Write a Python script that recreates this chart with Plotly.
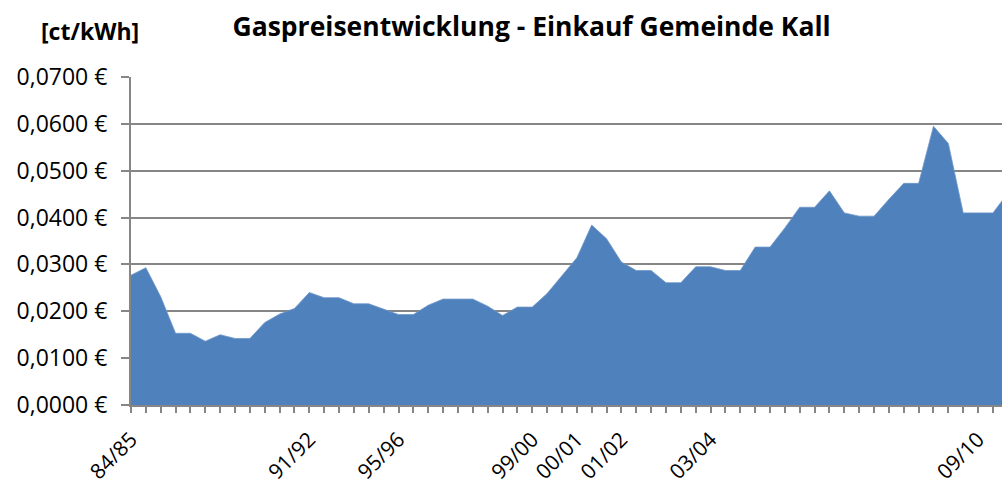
import plotly.graph_objects as go

# Price values (EUR per kWh) per period
prices = [
    0.0277, 0.0293, 0.0231, 0.0153, 0.0153, 0.0136, 0.0150, 0.0142, 0.0142, 0.0176,
    0.0194, 0.0206, 0.0240, 0.0229, 0.0229, 0.0216, 0.0216, 0.0204, 0.0193, 0.0193,
    0.0213, 0.0226, 0.0226, 0.0226, 0.0211, 0.0191, 0.0209, 0.0209, 0.0238, 0.0275,
    0.0314, 0.0384, 0.0355, 0.0305, 0.0287, 0.0287, 0.0261, 0.0261, 0.0295, 0.0295,
    0.0287, 0.0287, 0.0337, 0.0337, 0.0378, 0.0422, 0.0422, 0.0457, 0.0410, 0.0403,
    0.0403, 0.0439, 0.0473, 0.0473, 0.0595, 0.0558, 0.0410, 0.0410, 0.0410, 0.0452,
]

# Category labels (only some periods are labelled)
label_positions = [0, 12, 18, 27, 30, 33, 39, 57]
label_texts = ["84/85", "91/92", "95/96", "99/00", "00/01", "01/02", "03/04", "09/10"]

y_ticks = [0.0, 0.01, 0.02, 0.03, 0.04, 0.05, 0.06, 0.07]

x_idx = list(range(len(prices)))
tick_text = [""] * len(prices)
for p, t in zip(label_positions, label_texts):
    tick_text[p] = t

FONT = "Open Sans"

fig = go.Figure()
fig.add_trace(go.Scatter(
    x=x_idx, y=prices, mode="lines", fill="tozeroy",
    line=dict(width=0.8, color="#6F97C9"), fillcolor="#4F81BD",
    hoverinfo="skip", showlegend=False,
))

fig.update_layout(
    width=1002, height=485,
    margin=dict(l=131, r=0, t=77, b=80),
    paper_bgcolor="white", plot_bgcolor="white",
    separators=",.",
    font=dict(family=FONT, color="#000000", size=23),
    title=dict(text="<b>Gaspreisentwicklung - Einkauf Gemeinde Kall</b>",
               x=0.5305, xanchor="center", y=0.944, yanchor="middle",
               font=dict(family=FONT, size=26.5, color="#000000")),
    annotations=[dict(text="<b>[ct/kWh]</b>", xref="paper", yref="paper",
                      x=-0.047, y=1.14, xanchor="center", yanchor="middle",
                      showarrow=False, font=dict(family=FONT, size=23))],
)

fig.update_xaxes(
    range=[0, 58.61], tickmode="array", tickvals=x_idx, ticktext=tick_text,
    tickangle=-45, ticks="outside", ticklen=6, tickwidth=2, tickcolor="#868686",
    showline=True, linecolor="#868686", linewidth=2, showgrid=False, zeroline=False,
    tickfont=dict(family=FONT, size=21), ticklabelstandoff=6, automargin=False,
)
fig.update_yaxes(
    range=[0, 0.07], tickmode="array", tickvals=y_ticks,
    ticktext=[f"{v:.4f}".replace(".", ",") + " €" for v in y_ticks],
    ticks="outside", ticklen=8, tickwidth=2, tickcolor="#868686",
    showline=True, linecolor="#868686", linewidth=2,
    showgrid=True, gridcolor="#868686", gridwidth=2, zeroline=False,
    tickfont=dict(family=FONT, size=23), ticklabelstandoff=9, automargin=False,
)

fig.write_html(
    "out.html",
    config={"displayModeBar": False},
    post_script="document.body.style.margin='0';document.body.style.overflow='hidden';",
)
